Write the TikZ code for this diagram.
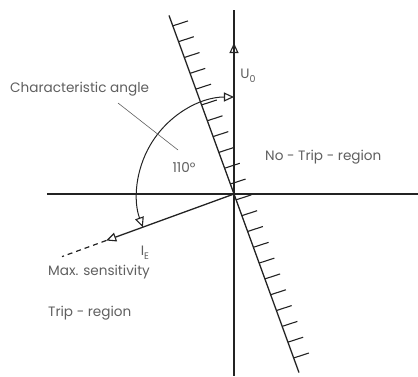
\documentclass[tikz,border=0pt]{standalone}
\usepackage{fontspec}
\setmainfont{Poppins}
\usetikzlibrary{arrows.meta,calc}
\definecolor{ink}{RGB}{35,35,35}
\definecolor{txt}{RGB}{95,95,95}
\newcommand{\lowsub}[1]{\raisebox{-4pt}{\fontsize{9.5}{10}\selectfont #1}}
\tikzset{
  axis/.style={draw=ink, line width=1.3pt},
  hatch/.style={draw=ink, line width=1.1pt},
  otri/.tip={Triangle[open, length=10pt, width=9pt, line width=1.1pt]},
  opentip/.style={-otri},
  lbl/.style={text=txt, font=\fontsize{13.6}{15}\selectfont, inner sep=0pt},
}
\begin{document}
\begin{tikzpicture}[x=1pt,y=1pt]
\useasboundingbox (-234,-182) rectangle (184,194);
\coordinate (O) at (0,0);
\coordinate (xl) at (-187,0);
\coordinate (xr) at (184,0);
\coordinate (yt) at (0,184);
\coordinate (yb) at (0,-182);
\coordinate (u0) at (0,151);
\coordinate (ct) at (110:190);
\coordinate (cb) at (-70:190);
\coordinate (ie) at (200:136);
\coordinate (ms) at (200:183);
% axes
\draw[axis] (xl) -- (xr);
\draw[axis] (yt) -- (yb);
\draw[axis, opentip] (O) -- (u0);
% characteristic line with hatching
\draw[axis] (ct) -- (cb);
\foreach \k in {0,...,21}{
  \pgfmathsetmacro{\s}{-174.5+16.83*\k}
  \draw[hatch] ($(O)+(110:\s)$) -- ++(18:16);
}
% I_E
\draw[axis, opentip] (O) -- (ie);
\draw[ink, line width=1.2pt, dash pattern=on 5pt off 4pt] (ie) -- (ms);
% angle arc
\draw[ink, line width=1pt, otri-otri]
  (90:97) arc[start angle=90, end angle=200, radius=97];
% labels
\node[lbl] (lu) at (14,118) {U\lowsub{0}};
\node[lbl] (lie) at (-89,-59) {I\lowsub{E}};
\node[lbl, anchor=west] (lca) at (-224,105) {Characteristic angle};
\node[lbl] (l110) at (-50,26) {110°};
\node[lbl, anchor=west] (lnt) at (31,37) {No - Trip - region};
\node[lbl, anchor=west] (lms) at (-186,-78) {Max. sensitivity};
\node[lbl, anchor=west] (ltr) at (-186,-119) {Trip - region};
\coordinate (p1) at (-116,91);
\coordinate (p2) at (-56,44);
\draw[txt, line width=0.6pt] (p1) -- (p2);
\end{tikzpicture}
\end{document}
